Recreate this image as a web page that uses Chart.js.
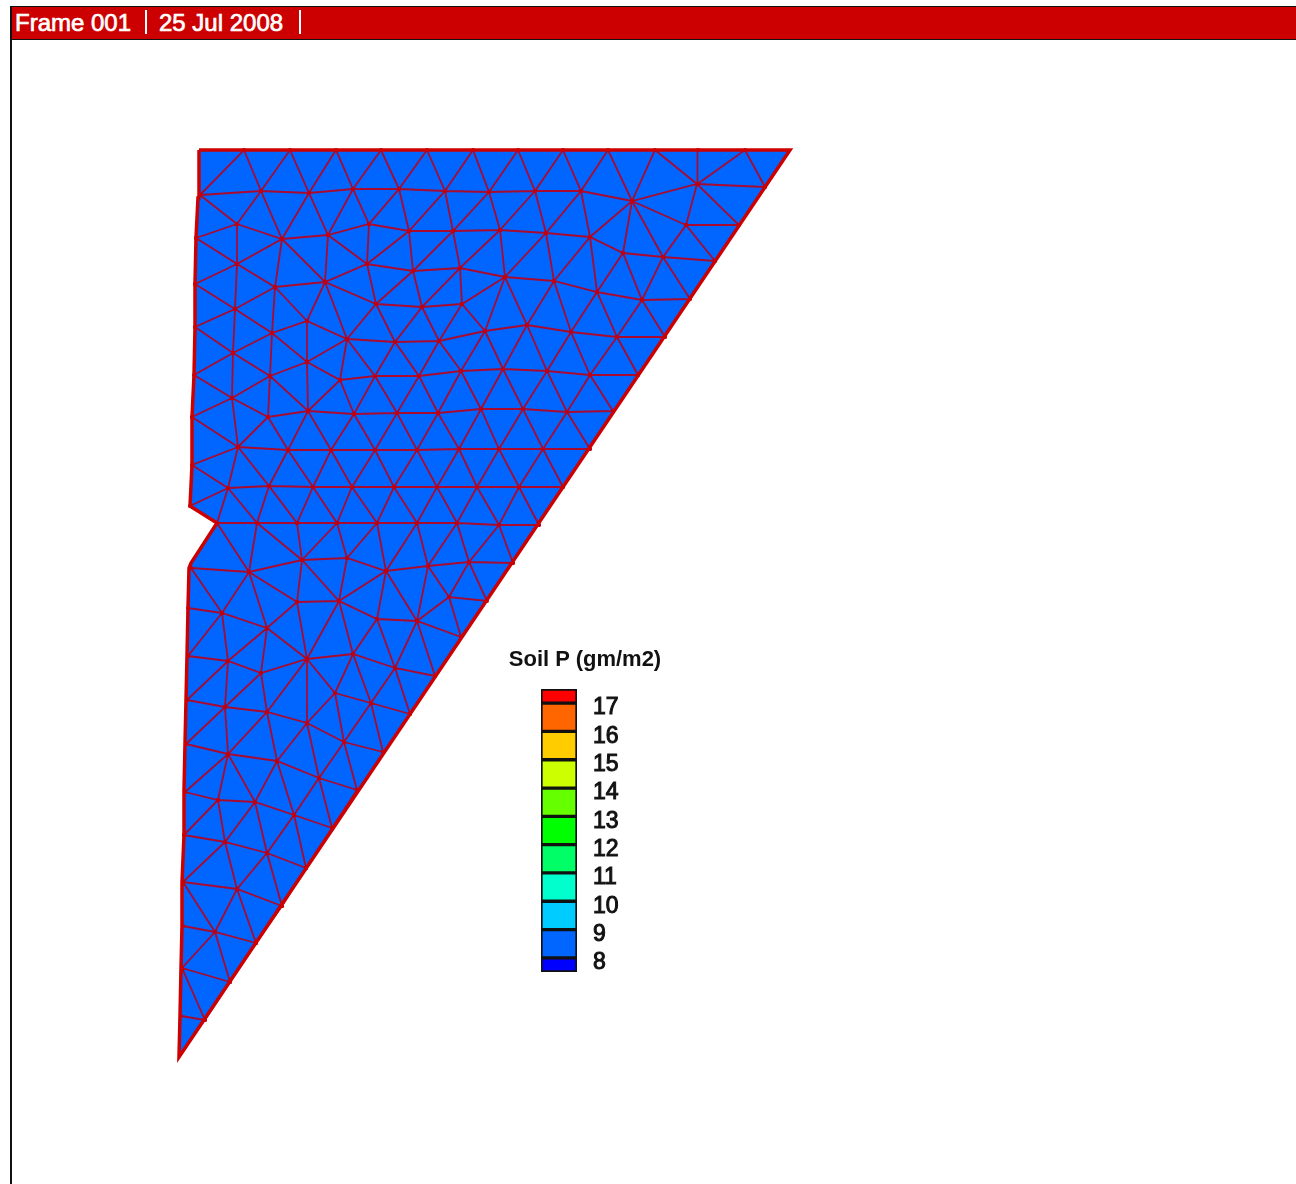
<!DOCTYPE html>
<html>
<head>
<meta charset="utf-8">
<title>Soil P</title>
<script src="https://cdn.jsdelivr.net/npm/chart.js@4/dist/chart.umd.min.js"></script>
<style>
    html, body { margin: 0; background: #fff; overflow: hidden; }
    #page { position: relative; width: 1296px; height: 1184px; font-family: "Liberation Sans", Arial, sans-serif; filter: blur(0.4px); }
    #meshChart { position: absolute; left: 0; top: 0; }
    #legendChart { position: absolute; left: 540px; top: 688px; }
    #frameLine { position: absolute; left: 10px; top: 6px; width: 2px; height: 1178px; background: #111; }
    #header { position: absolute; left: 12px; top: 6px; right: 0; height: 32px; background: #cc0000; border-top: 1px solid #111; border-bottom: 1px solid #111; }
    #header span { position: absolute; top: 0; line-height: 32px; color: #fff; font-size: 24px; white-space: nowrap; -webkit-text-stroke: 0.7px #fff; }
    #header i { position: absolute; top: 3px; width: 2px; height: 24px; background: #fff; }
    #legendTitle { position: absolute; left: 485px; width: 200px; top: 648px; text-align: center; font-size: 22px; line-height: 22px; font-weight: bold; color: #111; white-space: nowrap; }
</style>
</head>
<body>
<div id="page">
    <canvas id="meshChart" width="1296" height="1184"></canvas>
    <canvas id="legendChart" width="101" height="285"></canvas>
    <div id="frameLine"></div>
    <div id="header">
        <span style="left:3px">Frame 001</span><i style="left:133px"></i>
        <span style="left:147px">25 Jul 2008</span><i style="left:287px"></i>
    </div>
    <div id="legendTitle">Soil P (gm/m2)</div>
</div>
<script>
// outline of the grid, clockwise from the top left corner
const boundaryX = [199, 790, 179, 180, 181, 182, 182, 184, 184, 185, 186, 187, 188, 189, 191, 217, 190, 192, 192, 194, 195, 195, 196, 198, 199];
const boundaryY = [150, 150, 1057, 1016, 968, 926, 882, 835, 790, 744, 700, 656, 608, 568, 563, 523, 506, 465, 417, 375, 327, 284, 238, 198, 150];

// grid edges, each list is one x,y,x,y... run of connected nodes
const meshLines = [
    [200,195,261,191,309,193,353,189,399,189,445,191,489,192,535,191,581,191,632,201,697,184,765,187],
    [200,195,244,150,261,191,290,150,309,193,336,150,353,189,381,150,399,189,427,150,445,191,473,150,489,192,518,150,535,191,563,150,581,191,608,150,632,201,655,150,697,184,698,150,697,184,745,150,765,187],
    [237,224,282,239,328,235,369,224,409,231,453,231,500,230,546,233,590,237,623,253,663,257,715,261],
    [686,225,739,225,697,184,686,225,715,261],
    [200,195,237,224,261,191,282,239,309,193,328,235,353,189,369,224,399,189,409,231,445,191,453,231,489,192,500,230,535,191,546,233,581,191,590,237,632,201,623,253],
    [632,201,663,257,686,225,632,201],
    [196,238,237,224],
    [237,264,275,287,325,282,367,264,413,271,460,268,505,277,554,281,597,292,642,300,690,299],
    [237,224,237,264,282,239,275,287],
    [282,239,325,282,328,235,367,264,369,224,367,264,409,231,413,271,453,231,460,268,500,230,505,277,546,233,554,281,590,237,597,292,623,253,642,300,663,257,690,299],
    [196,238,237,264,195,284],
    [235,309,272,333,307,321,347,339,395,342,439,341,485,331,527,325,571,332,617,337,665,337],
    [376,304,422,307,462,304,505,277],
    [195,284,235,309,275,287,307,321,325,282,376,304,367,264],
    [376,304,413,271,422,307,460,268,462,304],
    [237,264,235,309],
    [275,287,272,333],
    [325,282,347,339,376,304,395,342,422,307,439,341,462,304,485,331,505,277,527,325,554,281,571,332,597,292,617,337,642,300,665,337],
    [195,327,235,309,233,353],
    [195,327,233,353,272,333,307,362,347,339],
    [307,321,307,362],
    [272,333,270,376],
    [233,353,270,376,307,362],
    [233,353,194,375,232,398,270,376],
    [233,353,232,398],
    [307,362,340,380,375,376,419,376,461,371,503,369,547,371,590,375,638,375],
    [347,339,340,380],
    [347,339,375,376,395,342,419,376,439,341,461,371,485,331,503,369,527,325,547,371,571,332,590,375,617,337,638,375],
    [232,398,268,417,308,411,354,414,397,413,438,413,481,409,523,409,567,412,613,411],
    [270,376,268,417],
    [270,376,308,411,307,362],
    [340,380,308,411],
    [340,380,354,414,375,376,397,413,419,376,438,413,461,371,481,409,503,369,523,409,547,371,567,412,590,375,613,411],
    [192,417,232,398,238,447,192,417],
    [268,417,238,447],
    [238,447,288,450,331,450,375,450,417,450,459,449,499,449,543,449,590,449],
    [268,417,288,450,308,411,331,450,354,414,375,450,397,413,417,450,438,413,459,449,481,409,499,449,523,409,543,449,567,412,590,449],
    [238,447,192,465,228,488,238,447,269,486],
    [228,488,269,486,313,487,352,487,394,487,437,487,477,487,519,487,563,487],
    [288,450,269,486],
    [288,450,313,487,331,450,352,487,375,450,394,487,417,450,437,487,459,449,477,487,499,449,519,487,543,449,563,487],
    [228,488,190,506],
    [217,523,257,523,297,523,337,523,377,523,417,523,457,523,499,525,539,525],
    [217,523,228,488,257,523,269,486,297,523,313,487,337,523,352,487,377,523,394,487,417,523,437,487,457,523,477,487,499,525,519,487,539,525],
    [191,568,249,572,302,560,347,558,386,571,428,566,469,562,513,563],
    [217,523,249,572,257,523,302,560,297,523],
    [302,560,337,523,347,558,377,523,386,571,417,523,428,566,457,523,469,562,499,525,513,563],
    [191,568,222,613,249,572,267,628],
    [249,572,297,602,302,560,339,601,347,558],
    [339,601,386,571,377,619],
    [386,571,417,621,428,566,449,597,469,562,487,601,449,597,461,637],
    [449,597,417,621],
    [297,602,339,601,377,619,417,621,461,637],
    [188,608,222,613,267,628,297,602],
    [222,613,188,656],
    [222,613,228,661,267,628,261,673],
    [267,628,307,659,297,602],
    [307,659,339,601,353,654,377,619,395,668,417,621,435,676],
    [188,656,228,661,261,673,307,659,353,654,395,668,435,676],
    [187,700,228,661,225,707,261,673,267,712,307,659,307,723],
    [307,659,335,693,353,654,371,703,395,668,410,714],
    [187,700,225,707,267,712,307,723,344,742,383,752],
    [335,693,371,703,410,714],
    [307,723,335,693,344,742,371,703,383,752],
    [186,744,225,707,228,754,267,712,277,761,307,723,319,778,344,742,357,790],
    [186,744,228,754,277,761,319,778,357,790],
    [185,792,228,754,218,800],
    [228,754,255,802,277,761,294,815,319,778,332,828,357,790],
    [185,792,218,800,255,802,294,815,332,828],
    [184,835,218,800,225,842,255,802,267,853,294,815,306,868,332,828],
    [184,835,225,842,267,853,306,868],
    [183,882,225,842,237,889,267,853,282,906,306,868],
    [183,882,237,889,282,906],
    [183,882,215,932,237,889,256,943,282,906],
    [183,926,215,932,256,943],
    [182,968,215,932,230,982,256,943],
    [182,968,230,982],
    [182,968,205,1020,230,982],
    [181,1016,205,1020]
];

// colour bar
const legendEdges = [7.5, 8, 9, 10, 11, 12, 13, 14, 15, 16, 17, 17.5];
const legendColors = ['#0000ff', '#0066ff', '#00ccff', '#00ffcc', '#00ff66', '#00ff00', '#66ff00', '#ccff00', '#ffcc00', '#ff6600', '#ff0000'];
const legendTicks = [8, 9, 10, 11, 12, 13, 14, 15, 16, 17];

// boundary as x/y points
const outlinePoints = boundaryX.map((x, i) => ({x: x, y: boundaryY[i]}));

// all edges in one dataset, null points break the line between runs
const meshPoints = [];
meshLines.forEach(run => {
    for (let i = 0; i < run.length; i += 2) {
        meshPoints.push({x: run[i], y: run[i + 1]});
    }
    meshPoints.push({x: null, y: null});
});

new Chart(document.getElementById('meshChart'), {
    type: 'scatter',
    data: {
        datasets: [
            {
                // blue fill
                data: outlinePoints,
                showLine: true,
                fill: 'shape',
                backgroundColor: '#0066ff',
                borderWidth: 0,
                pointRadius: 0,
                order: 3
            },
            {
                data: meshPoints,
                showLine: true,
                spanGaps: false,
                borderColor: '#a80a30',
                borderWidth: 1.8,
                pointRadius: 2,
                pointBorderWidth: 0,
                pointBackgroundColor: '#c00010',
                order: 2
            },
            {
                // red outline on top
                data: outlinePoints,
                showLine: true,
                borderColor: '#cc0000',
                borderWidth: 3.5,
                pointRadius: 0,
                order: 1
            }
        ]
    },
    options: {
        responsive: false,
        animation: false,
        layout: {padding: 0, autoPadding: false},
        plugins: {legend: {display: false}, tooltip: {enabled: false}},
        scales: {
            x: {type: 'linear', min: 0, max: 1296, display: false},
            y: {type: 'linear', min: 0, max: 1184, reverse: true, display: false}
        }
    }
});

new Chart(document.getElementById('legendChart'), {
    type: 'bar',
    data: {
        labels: ['Soil P'],
        datasets: legendColors.map((color, i) => ({
            data: [[legendEdges[i], legendEdges[i + 1]]],
            backgroundColor: color,
            borderColor: '#111',
            borderWidth: 2,
            borderSkipped: false,
            barPercentage: 1,
            categoryPercentage: 1,
            grouped: false
        }))
    },
    options: {
        responsive: false,
        animation: false,
        layout: {padding: {left: 1, top: 1, bottom: 1}, autoPadding: false},
        plugins: {legend: {display: false}, tooltip: {enabled: false}},
        scales: {
            x: {display: false},
            y: {
                position: 'right',
                min: 7.5,
                max: 17.5,
                grid: {display: false, drawTicks: false},
                border: {display: false},
                afterBuildTicks: scale => { scale.ticks = legendTicks.map(v => ({value: v})); },
                afterFit: scale => {
                    scale.width = 64;
                    // tick padding also gets added above and below the axis, not wanted here
                    scale.paddingTop = 0;
                    scale.paddingBottom = 0;
                },
                ticks: {
                    autoSkip: false,
                    color: '#111',
                    padding: 16,
                    labelOffset: 5,
                    crossAlign: 'near',
                    textStrokeColor: '#111',
                    textStrokeWidth: 1,
                    font: {family: '"Liberation Sans", Arial, sans-serif', size: 23},
                    callback: v => String(v)
                }
            }
        }
    }
});
</script>
</body>
</html>
